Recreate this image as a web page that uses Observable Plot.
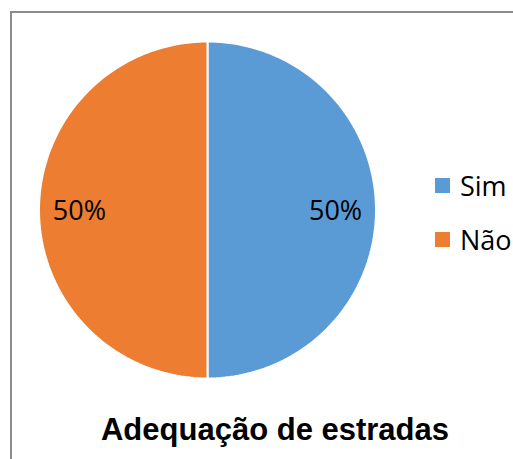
<!DOCTYPE html>
<html>
<head>
<meta charset="utf-8">
<script src="https://cdn.jsdelivr.net/npm/d3@7"></script>
<script src="https://cdn.jsdelivr.net/npm/@observablehq/plot@0.6"></script>
<style>
  html, body { margin: 0; padding: 0; background: #fff; }
  #wrap { position: relative; width: 513px; height: 459px; overflow: hidden; }
  #border { position: absolute; left: 10px; top: 11px; width: 600px; height: 600px; border: 2px solid #8c8c8c; box-sizing: border-box; }
  #chart { position: absolute; left: 0; top: 0; }
  .leg { position: absolute; left: 435px; font-family: "Open Sans", sans-serif; font-size: 27px; color: #000; display: flex; align-items: center; line-height: 1; }
  .leg .sw { width: 15px; height: 15px; margin-right: 10px; }
  #title { position: absolute; left: 0; width: 550px; text-align: center; top: 412px; font-family: "Liberation Sans", Arial, sans-serif; font-weight: bold; font-size: 31px; color: #000; }
</style>
</head>
<body>
<div id="wrap">
  <div id="border"></div>
  <div id="chart"></div>
  <div id="legend"></div>
  <div id="title"></div>
</div>
<script>
const categories = ["Sim", "Não"];
const values = [50, 50];
const colors = ["#5B9BD5", "#ED7D31"];
const labels = ["50%", "50%"];
const title = "Adequação de estradas";

const data = categories.map((c, i) => ({category: c, value: values[i], label: labels[i]}));
const arcs = d3.pie().sort(null).value(d => d.value)(data);

// Build slice outlines in unit-circle coordinates (12 o'clock start, clockwise)
const pts = [];
arcs.forEach(a => {
  const n = 120;
  pts.push({category: a.data.category, x: 0, y: 0});
  for (let k = 0; k <= n; k++) {
    const t = a.startAngle + (a.endAngle - a.startAngle) * k / n;
    pts.push({category: a.data.category, x: Math.sin(t), y: Math.cos(t)});
  }
});
const labelPts = arcs.map(a => {
  const m = (a.startAngle + a.endAngle) / 2;
  return {category: a.data.category, label: a.data.label, x: 0.76 * Math.sin(m), y: 0.76 * Math.cos(m)};
});

const plot = Plot.plot({
  width: 513,
  height: 459,
  margin: 0,
  x: {domain: [-1, 1], range: [38.5, 375.5], axis: null},
  y: {domain: [-1, 1], range: [378, 41], axis: null},
  color: {domain: categories, range: colors},
  marks: [
    Plot.line(pts, {x: "x", y: "y", z: "category", fill: "category", stroke: "#fff", strokeWidth: 2, curve: "linear-closed"}),
    Plot.text(labelPts, {x: "x", y: "y", text: "label", fontSize: 27, fill: "#000", fontFamily: "Open Sans", dy: 1})
  ]
});
plot.style.background = "transparent";
document.getElementById("chart").appendChild(plot);

const legend = document.getElementById("legend");
const legendTops = [172, 226];
categories.forEach((c, i) => {
  const row = document.createElement("div");
  row.className = "leg";
  row.style.top = legendTops[i] + "px";
  const sw = document.createElement("div");
  sw.className = "sw";
  sw.style.background = colors[i];
  const tx = document.createElement("span");
  tx.textContent = c;
  row.appendChild(sw);
  row.appendChild(tx);
  legend.appendChild(row);
});
document.getElementById("title").textContent = title;
</script>
</body>
</html>
